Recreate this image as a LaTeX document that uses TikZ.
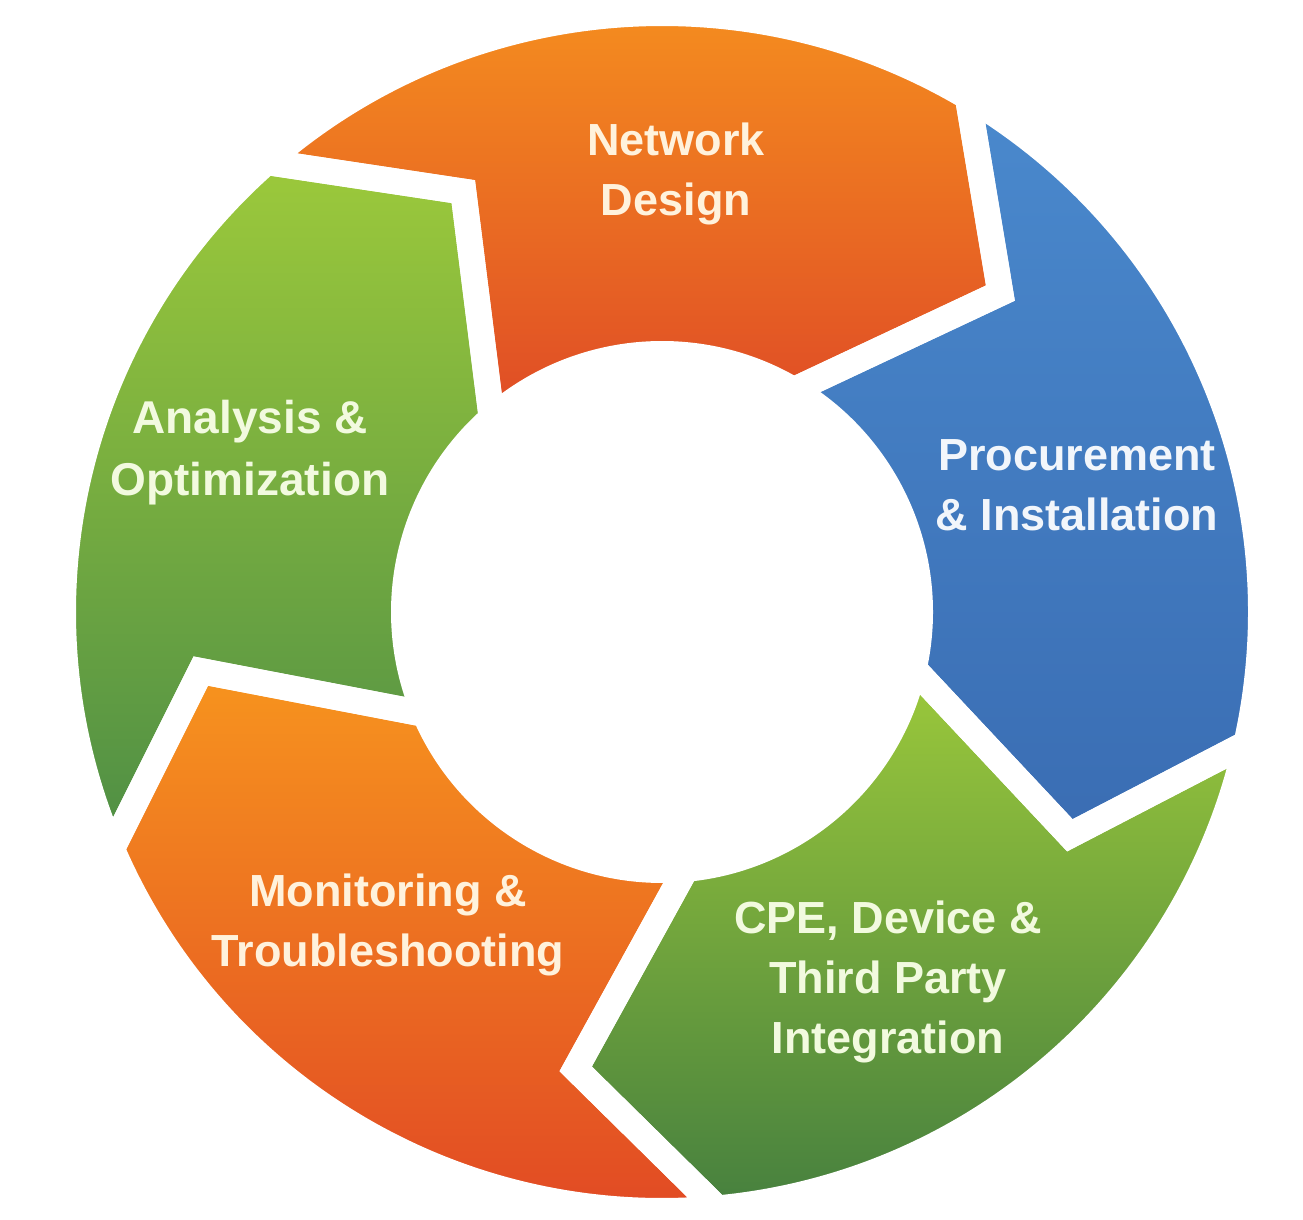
\documentclass[tikz,border=0pt]{standalone}
\usepackage{fontspec}
\setmainfont{Liberation Sans}
\def\segRo{599pt}
\def\segRi{258pt}
\def\segRm{465pt}
\def\segD{16}
\newcommand{\segpath}[1]{%
  ({#1}:\segRo) arc[start angle={#1}, end angle={#1-72}, radius=\segRo]
  -- ({#1-72-\segD}:\segRm) -- ({#1-72}:\segRi)
  arc[start angle={#1-72}, end angle={#1}, radius=\segRi]
  -- ({#1-\segD}:\segRm) -- cycle}
\definecolor{orTop}{HTML}{F7941E}
\definecolor{orBot}{HTML}{DF4B26}
\definecolor{blTop}{HTML}{4A89CD}
\definecolor{blBot}{HTML}{3A6DB3}
\definecolor{grTop}{HTML}{9CC93B}
\definecolor{grBot}{HTML}{4E8E45}
\definecolor{txOr}{HTML}{FFF2DC}
\definecolor{txGr}{HTML}{F2FADF}
\definecolor{txBl}{HTML}{F2F6FB}
\tikzset{
  lbl/.style={align=center, font=\bfseries\fontsize{45}{60}\selectfont},
  gap/.style={draw=white, line width=26pt}
}
\begin{document}
\begin{tikzpicture}[x=1pt,y=1pt]
\useasboundingbox (0,0) rectangle (1303,1220);
\fill[white] (0,0) rectangle (1303,1220);
\begin{scope}[shift={(662pt,608pt)}]
  \path[top color=orTop, bottom color=orBot] \segpath{131.3};
  \path[top color=blTop, bottom color=blBot] \segpath{59.3};
  \path[top color=grTop, bottom color=grBot!90!black] \segpath{-12.7};
  \path[top color=orTop, bottom color=orBot!95!red] \segpath{-84.7};
  \path[top color=grTop, bottom color=grBot] \segpath{-156.7};
  \path[gap] \segpath{131.3};
  \path[gap] \segpath{59.3};
  \path[gap] \segpath{-12.7};
  \path[gap] \segpath{-84.7};
  \path[gap] \segpath{-156.7};
\end{scope}
\node[lbl, text=txOr] (nd) at (676,1046) {Network\\Design};
\node[lbl, text=txBl] (pi) at (1077,735) {Procurement\\\& Installation};
\node[lbl, text=txGr] (cpe) at (888,238) {CPE, Device \&\\Third Party\\Integration};
\node[lbl, text=txOr] (mt) at (388,295) {Monitoring \&\\Troubleshooting};
\node[lbl, text=txGr, font=\bfseries\fontsize{46}{62}\selectfont] (ao) at (250,767) {Analysis \&\\Optimization};
\end{tikzpicture}
\end{document}
